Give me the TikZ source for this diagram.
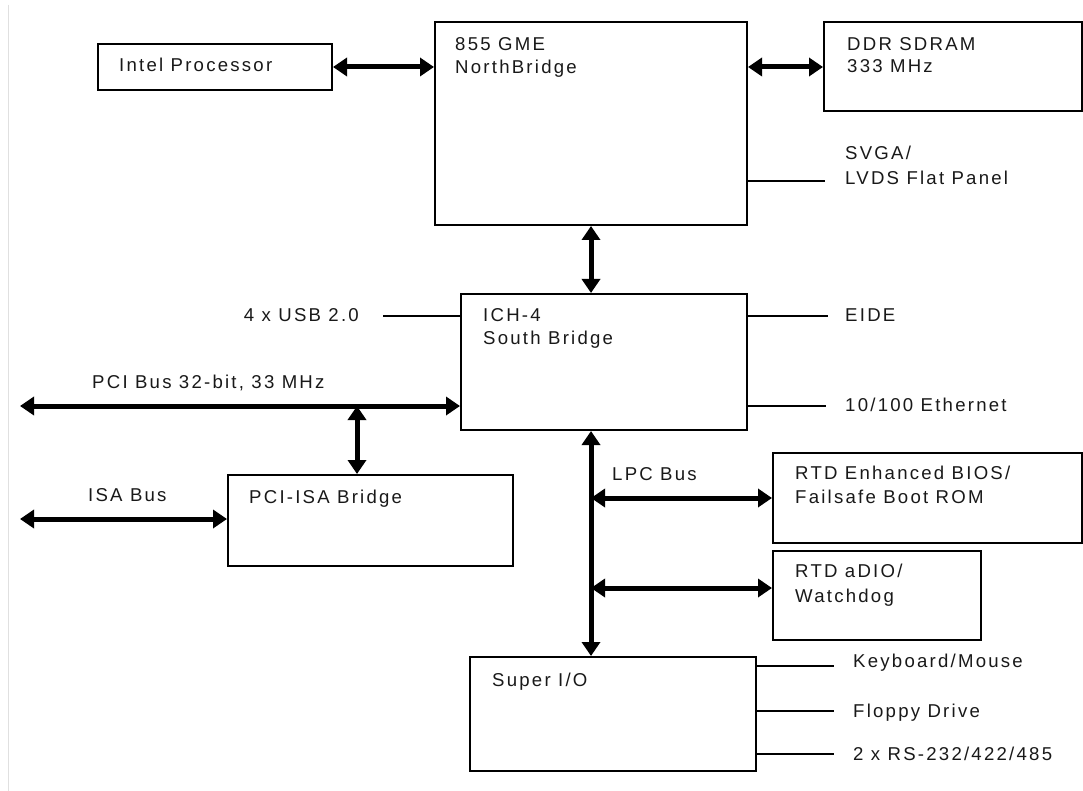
\documentclass[tikz,border=0pt]{standalone}
\usepackage{fontspec}
\setmainfont{Liberation Sans}[LetterSpace=12]
\usetikzlibrary{arrows.meta}
\begin{document}
\begin{tikzpicture}[x=1pt,y=-1pt,
  box/.style={draw=black,line width=2pt,rectangle,inner sep=0pt,anchor=north west},
  lbl/.style={anchor=base west,inner sep=0pt,text=black!90,font=\fontsize{18.6}{22}\selectfont},
  lble/.style={lbl,anchor=base east},
  bus/.style={line width=5pt,{Triangle[length=14pt,width=18pt]}-{Triangle[length=14pt,width=18pt]}},
  busr/.style={line width=5pt,-{Triangle[length=14pt,width=18pt]}},
  thin/.style={line width=1.5pt},
  thinner/.style={line width=1.2pt}]
\useasboundingbox (0,0) rectangle (1083,791);
\fill[white] (0,0) rectangle (1083,791);
\draw[black!12,line width=1pt] (8,5) -- (8,791);

% boxes
\node[box,minimum width=234pt,minimum height=46pt] (intel) at (97,43) {};
\node[box,minimum width=312pt,minimum height=203pt] (nb) at (434,21) {};
\node[box,minimum width=258pt,minimum height=89pt] (ddr) at (823,21) {};
\node[box,minimum width=286pt,minimum height=136pt] (ich) at (460,293) {};
\node[box,minimum width=285pt,minimum height=91pt] (isa) at (227,474) {};
\node[box,minimum width=309pt,minimum height=90pt] (bios) at (772,452) {};
\node[box,minimum width=208pt,minimum height=89pt] (adio) at (772,550) {};
\node[box,minimum width=286pt,minimum height=114pt] (sio) at (469,656) {};

% texts
\node[lbl] (tintel) at (119,72) {Intel Processor};
\node[lbl] (tnb1) at (455,51) {855 GME};
\node[lbl] (tnb2) at (455,74) {NorthBridge};
\node[lbl] (tddr1) at (847,51) {DDR SDRAM};
\node[lbl] (tddr2) at (847,73) {333 MHz};
\node[lbl] (tsvga1) at (845,160) {SVGA/};
\node[lbl] (tsvga2) at (845,185) {LVDS Flat Panel};
\node[lble] (tusb) at (359,321) {4 x USB 2.0};
\node[lbl] (tich1) at (483,321) {ICH-4};
\node[lbl] (tich2) at (483,344) {South Bridge};
\node[lbl] (teide) at (845,321) {EIDE};
\node[lbl] (teth) at (845,411) {10/100 Ethernet};
\node[lbl] (tpci) at (92,388) {PCI Bus 32-bit, 33 MHz};
\node[lbl] (tisab) at (88,501) {ISA Bus};
\node[lbl] (tisa) at (249,503) {PCI-ISA Bridge};
\node[lbl] (tlpc) at (612,480) {LPC Bus};
\node[lbl] (tbios1) at (795,479) {RTD Enhanced BIOS/};
\node[lbl] (tbios2) at (795,503) {Failsafe Boot ROM};
\node[lbl] (tadio1) at (795,577) {RTD aDIO/};
\node[lbl] (tadio2) at (795,602) {Watchdog};
\node[lbl] (tsio) at (492,686) {Super I/O};
\node[lbl] (tkbd) at (853,667) {Keyboard/Mouse};
\node[lbl] (tfdd) at (853,717) {Floppy Drive};
\node[lbl] (trs) at (853,760) {2 x RS-232/422/485};

% coordinates for free ends
\coordinate (intely) at (0,67);
\coordinate (ddry) at (0,67);
\coordinate (svgaend) at (825,181);
\coordinate (usbend) at (383,316);
\coordinate (eideend) at (828,316);
\coordinate (ethend) at (826,406);
\coordinate (pcil) at (20,406);
\coordinate (pcij) at (357,406);
\coordinate (isal) at (20,519);
\coordinate (lpcx) at (591,0);
\coordinate (biosy) at (0,498);
\coordinate (adioy) at (0,588);
\coordinate (kbdend) at (834,666);
\coordinate (fddend) at (834,711);
\coordinate (rsend) at (834,754);

% buses
\draw[bus] (intely -| intel.east) -- (intely -| nb.west);
\draw[bus] (ddry -| nb.east) -- (ddry -| ddr.west);
\draw[bus] (nb.south -| lpcx) -- (ich.north -| lpcx);
\draw[bus] (pcil) -- (pcil -| ich.west);
\draw[bus] (pcij) -- (pcij |- isa.north);
\draw[bus] (isal) -- (isal -| isa.west);
\draw[bus] (ich.south -| lpcx) -- (sio.north -| lpcx);
\draw[bus] (lpcx |- biosy) -- (biosy -| bios.west);
\draw[bus] (lpcx |- adioy) -- (adioy -| adio.west);

% thin lines
\draw[thin] (svgaend -| nb.east) -- (svgaend);
\draw[thinner] (usbend) -- (usbend -| ich.west);
\draw[thinner] (eideend -| ich.east) -- (eideend);
\draw[thin] (ethend -| ich.east) -- (ethend);
\draw[thin] (kbdend -| sio.east) -- (kbdend);
\draw[thin] (fddend -| sio.east) -- (fddend);
\draw[thin] (rsend -| sio.east) -- (rsend);
\end{tikzpicture}
\end{document}
